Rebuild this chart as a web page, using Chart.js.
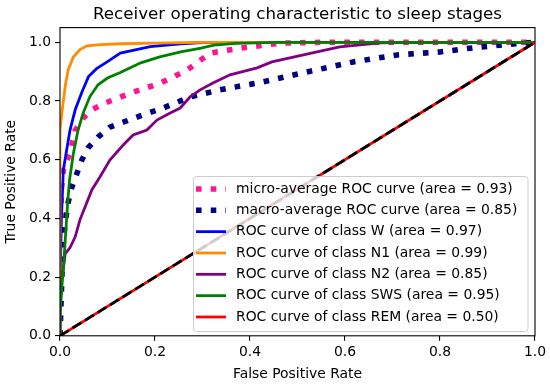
<!DOCTYPE html>
<html>
<head>
<meta charset="utf-8">
<script src="https://cdn.jsdelivr.net/npm/chart.js@4"></script>
<style>
  html, body { margin: 0; padding: 0; background: #fff; }
  #wrap { width: 550px; height: 384px; position: relative; }
</style>
</head>
<body>
<div id="wrap"><canvas id="rocChart"></canvas></div>
<script>
// ROC curves (fpr / tpr pairs)
const microFpr = [0, 0.001, 0.003, 0.007, 0.015, 0.021, 0.032, 0.049, 0.067, 0.095, 0.154, 0.21, 0.267, 0.316, 0.379, 0.463, 0.55, 1];
const microTpr = [0, 0.35, 0.5, 0.565, 0.6, 0.62, 0.70, 0.742, 0.77, 0.793, 0.83, 0.86, 0.905, 0.963, 0.98, 0.997, 1, 1];

const macroFpr = [0, 0.002, 0.004, 0.006, 0.011, 0.017, 0.025, 0.036, 0.046, 0.059, 0.08, 0.105, 0.162, 0.217, 0.274, 0.337, 0.427, 0.52, 0.617, 0.71, 0.8, 0.869, 0.933, 1];
const macroTpr = [0, 0.1, 0.2, 0.303, 0.385, 0.453, 0.507, 0.555, 0.599, 0.64, 0.677, 0.711, 0.745, 0.776, 0.814, 0.838, 0.865, 0.899, 0.933, 0.957, 0.967, 0.981, 0.991, 1];

const wFpr = [0, 0, 0.003, 0.006, 0.007, 0.014, 0.021, 0.032, 0.046, 0.06, 0.077, 0.10, 0.127, 0.19, 0.254, 0.3, 0.33, 1];
const wTpr = [0, 0.15, 0.4, 0.52, 0.565, 0.633, 0.70, 0.77, 0.83, 0.883, 0.91, 0.934, 0.963, 0.985, 0.995, 0.999, 1, 1];

const n1Fpr = [0, 0, 0.004, 0.011, 0.017, 0.028, 0.042, 0.057, 0.085, 0.13, 0.2, 0.3, 1];
const n1Tpr = [0, 0.70, 0.76, 0.85, 0.905, 0.95, 0.975, 0.988, 0.992, 0.995, 0.997, 1, 1];

const n2Fpr = [0, 0, 0.004, 0.011, 0.021, 0.032, 0.042, 0.056, 0.067, 0.084, 0.105, 0.133, 0.154, 0.183, 0.204, 0.232, 0.253, 0.274, 0.295, 0.322, 0.358, 0.415, 0.446, 0.484, 0.541, 0.589, 0.674, 0.758, 1];
const n2Tpr = [0, 0.08, 0.19, 0.28, 0.30, 0.337, 0.395, 0.452, 0.497, 0.541, 0.599, 0.65, 0.684, 0.701, 0.735, 0.759, 0.776, 0.814, 0.838, 0.861, 0.889, 0.913, 0.933, 0.947, 0.967, 0.984, 0.998, 1, 1];

const swsFpr = [0, 0, 0.004, 0.008, 0.012, 0.016, 0.02, 0.028, 0.038, 0.049, 0.063, 0.08, 0.10, 0.127, 0.17, 0.21, 0.254, 0.297, 0.324, 0.37, 0.45, 1];
const swsTpr = [0, 0.08, 0.17, 0.25, 0.35, 0.45, 0.53, 0.62, 0.70, 0.76, 0.815, 0.855, 0.878, 0.897, 0.93, 0.95, 0.967, 0.98, 0.99, 0.996, 1, 1];

const remFpr = [0, 1];
const remTpr = [0, 1];

const chanceFpr = [0, 1];
const chanceTpr = [0, 1];

const classNames = ['W', 'N1', 'N2', 'SWS', 'REM'];
const classAreas = ['0.97', '0.99', '0.85', '0.95', '0.50'];
const microArea = '0.93';
const macroArea = '0.85';
const tickValues = [0, 0.2, 0.4, 0.6, 0.8, 1.0];
const chartTitle = 'Receiver operating characteristic to sleep stages';

function pts(xs, ys) {
  return xs.map(function(x, i) { return { x: x, y: ys[i] }; });
}

const LW = 2.78;      // 2pt line
const DOT = 5.56;     // 4pt dotted line
const FONT = 'DejaVu Sans';

const curves = [
  { label: 'micro-average ROC curve (area = ' + microArea + ')', data: pts(microFpr, microTpr), color: '#ff1493', width: DOT, dash: [DOT, DOT * 1.65] },
  { label: 'macro-average ROC curve (area = ' + macroArea + ')', data: pts(macroFpr, macroTpr), color: '#000080', width: DOT, dash: [DOT, DOT * 1.65] },
  { label: 'ROC curve of class ' + classNames[0] + ' (area = ' + classAreas[0] + ')', data: pts(wFpr, wTpr), color: '#0000ff', width: LW, dash: [] },
  { label: 'ROC curve of class ' + classNames[1] + ' (area = ' + classAreas[1] + ')', data: pts(n1Fpr, n1Tpr), color: '#ff8c00', width: LW, dash: [] },
  { label: 'ROC curve of class ' + classNames[2] + ' (area = ' + classAreas[2] + ')', data: pts(n2Fpr, n2Tpr), color: '#800080', width: LW, dash: [] },
  { label: 'ROC curve of class ' + classNames[3] + ' (area = ' + classAreas[3] + ')', data: pts(swsFpr, swsTpr), color: '#008000', width: LW, dash: [] },
  { label: 'ROC curve of class ' + classNames[4] + ' (area = ' + classAreas[4] + ')', data: pts(remFpr, remTpr), color: '#ff0000', width: LW, dash: [] },
  { label: '', data: pts(chanceFpr, chanceTpr), color: '#000000', width: LW, dash: [3.7 * LW, 1.6 * LW], noLegend: true }
];

const datasets = curves.map(function(c, i) {
  return {
    label: c.label,
    data: c.data,
    borderColor: c.color,
    backgroundColor: c.color,
    borderWidth: c.width,
    borderDash: c.dash,
    borderCapStyle: 'butt',
    pointRadius: 0,
    tension: 0,
    fill: false,
    clip: 0,
    order: curves.length - i,   // later curves on top, like matplotlib
    noLegend: !!c.noLegend
  };
});

// frame around the axes + title centred over the axes
const framePlugin = {
  id: 'frame',
  afterDatasetsDraw: function(chart) {
    const a = chart.chartArea, ctx = chart.ctx;
    ctx.save();
    ctx.strokeStyle = '#000';
    ctx.lineWidth = 1.1;
    ctx.strokeRect(a.left, a.top, a.right - a.left, a.bottom - a.top);
    ctx.fillStyle = '#000';
    ctx.font = '16.7px "' + FONT + '"';
    ctx.textAlign = 'center';
    ctx.textBaseline = 'alphabetic';
    ctx.fillText(chartTitle, (a.left + a.right) / 2, a.top - 8.3);
    ctx.restore();
  }
};

// legend in the lower right, matplotlib style
const legendPlugin = {
  id: 'mplLegend',
  afterDraw: function(chart) {
    const ctx = chart.ctx;
    const items = chart.data.datasets.filter(function(d) { return !d.noLegend; });
    const box = { left: 193.5, top: 176.5, right: 528, bottom: 331.5 };
    const rowStart = 189, rowStep = 21.33;
    ctx.save();
    const r = 3;
    ctx.beginPath();
    ctx.moveTo(box.left + r, box.top);
    ctx.arcTo(box.right, box.top, box.right, box.bottom, r);
    ctx.arcTo(box.right, box.bottom, box.left, box.bottom, r);
    ctx.arcTo(box.left, box.bottom, box.left, box.top, r);
    ctx.arcTo(box.left, box.top, box.right, box.top, r);
    ctx.closePath();
    ctx.fillStyle = 'rgba(255,255,255,0.8)';
    ctx.fill();
    ctx.strokeStyle = '#cccccc';
    ctx.lineWidth = 1;
    ctx.stroke();

    ctx.font = '13.9px "' + FONT + '"';
    ctx.textBaseline = 'middle';
    ctx.textAlign = 'left';
    items.forEach(function(d, i) {
      const y = rowStart + i * rowStep;
      ctx.beginPath();
      ctx.strokeStyle = d.borderColor;
      ctx.lineWidth = d.borderWidth;
      ctx.lineCap = 'butt';
      ctx.setLineDash(d.borderDash);
      ctx.moveTo(196, y);
      ctx.lineTo(226, y);
      ctx.stroke();
      ctx.setLineDash([]);
      ctx.fillStyle = '#000';
      ctx.fillText(d.label, 236, y);
    });
    ctx.restore();
  }
};

const tickFont = { family: FONT, size: 13.9 };

new Chart(document.getElementById('rocChart'), {
  type: 'line',
  data: { datasets: datasets },
  options: {
    responsive: true,
    maintainAspectRatio: false,
    animation: false,
    devicePixelRatio: 1,
    layout: { padding: { top: 27.6, right: 15, bottom: 0, left: 0 } },
    plugins: {
      legend: { display: false },
      tooltip: { enabled: false },
      title: { display: false }
    },
    scales: {
      x: {
        type: 'linear',
        min: 0,
        max: 1,
        afterBuildTicks: function(scale) {
          scale.ticks = tickValues.map(function(v) { return { value: v }; });
        },
        afterFit: function(scale) { scale.height = 48.2; },
        ticks: {
          color: '#000',
          font: tickFont,
          padding: 3,
          maxRotation: 0,
          callback: function(v) { return Number(v).toFixed(1); }
        },
        grid: { drawOnChartArea: false, drawTicks: true, tickLength: 5, color: '#000', lineWidth: 1.1 },
        border: { display: false },
        title: {
          display: true,
          text: 'False Positive Rate',
          color: '#000',
          font: { family: FONT, size: 13.9, lineHeight: 1.2 },
          padding: { top: 0, bottom: 1 }
        }
      },
      y: {
        type: 'linear',
        min: 0,
        max: 1.05,
        afterBuildTicks: function(scale) {
          scale.ticks = tickValues.map(function(v) { return { value: v }; });
        },
        afterFit: function(scale) { scale.width = 60; },
        ticks: {
          color: '#000',
          font: tickFont,
          padding: 4,
          callback: function(v) { return Number(v).toFixed(1); }
        },
        grid: { drawOnChartArea: false, drawTicks: true, tickLength: 5, color: '#000', lineWidth: 1.1 },
        border: { display: false },
        title: {
          display: true,
          text: 'True Positive Rate',
          color: '#000',
          font: { family: FONT, size: 13.9, lineHeight: 1.2 },
          padding: { top: 3.5, bottom: 0 }
        }
      }
    }
  },
  plugins: [framePlugin, legendPlugin]
});
</script>
</body>
</html>
